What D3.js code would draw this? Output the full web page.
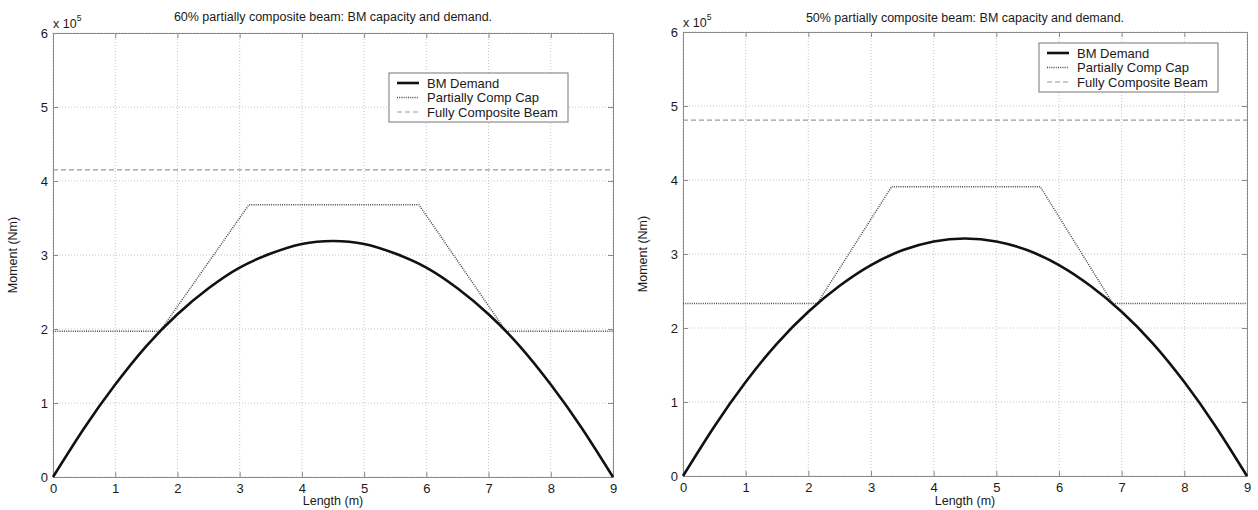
<!DOCTYPE html>
<html>
<head>
<meta charset="utf-8">
<script src="https://cdn.jsdelivr.net/npm/d3@7"></script>
<style>
  body { margin: 0; background: #fff; }
  svg text { font-family: "Liberation Sans", Arial, sans-serif; fill: #1a1a1a; }
</style>
</head>
<body>
<svg id="chart" width="1258" height="510"></svg>
<script>
// values, moments in Nm
const lengthTicks = [0, 1, 2, 3, 4, 5, 6, 7, 8, 9];
const momentTicks = [0, 1e5, 2e5, 3e5, 4e5, 5e5, 6e5];

const demandX = [0, 0.5, 1, 1.5, 2, 2.5, 3, 3.5, 4, 4.5, 5, 5.5, 6, 6.5, 7, 7.5, 8, 8.5, 9];
const demandLeft = [0, 66000, 125000, 177000, 220000, 255000, 283000, 302000, 315000, 319000,
  315000, 302000, 283000, 255000, 220000, 177000, 125000, 66000, 0];
const demandRight = [0, 67000, 127000, 179000, 222000, 257000, 285000, 305000, 317000, 321000,
  317000, 305000, 285000, 257000, 222000, 179000, 127000, 67000, 0];

const capLeftX = [0, 1.72, 3.15, 5.88, 7.28, 9];
const capLeftM = [197000, 197000, 368000, 368000, 197000, 197000];
const capRightX = [0, 2.14, 3.33, 5.70, 6.86, 9];
const capRightM = [233000, 233000, 391000, 391000, 233000, 233000];

const fullLeft = 415000;
const fullRight = 481000;

const legendLabels = ["BM Demand", "Partially Comp Cap", "Fully Composite Beam"];

const styles = [
  { stroke: "#111", width: 2.6, dash: null },
  { stroke: "#4a4a4a", width: 1.5, dash: "1,1.2" },
  { stroke: "#999", width: 1.2, dash: "5,3" }
];

const svg = d3.select("#chart");

function drawPanel(p) {
  const x = d3.scaleLinear().domain([0, 9]).range([p.left, p.right]);
  const y = d3.scaleLinear().domain([0, 6e5]).range([p.bottom, p.top]);
  const g = svg.append("g");

  // grid
  g.append("g").selectAll("line").data(lengthTicks).join("line")
    .attr("x1", d => x(d)).attr("x2", d => x(d))
    .attr("y1", p.top).attr("y2", p.bottom)
    .attr("stroke", "#c4c4c4").attr("stroke-dasharray", "1,2");
  g.append("g").selectAll("line").data(momentTicks).join("line")
    .attr("y1", d => y(d)).attr("y2", d => y(d))
    .attr("x1", p.left).attr("x2", p.right)
    .attr("stroke", "#c4c4c4").attr("stroke-dasharray", "1,2");

  // axes, ticks pointing in on all four sides
  const fmt = d => d / 1e5;
  const axes = [
    d3.axisBottom(x).tickValues(lengthTicks).tickSize(-5).tickPadding(7),
    d3.axisTop(x).tickValues(lengthTicks).tickSize(-5).tickFormat(""),
    d3.axisLeft(y).tickValues(momentTicks).tickSize(-5).tickPadding(5).tickFormat(fmt),
    d3.axisRight(y).tickValues(momentTicks).tickSize(-5).tickFormat("")
  ];
  const pos = [
    `translate(0,${p.bottom})`, `translate(0,${p.top})`,
    `translate(${p.left},0)`, `translate(${p.right},0)`
  ];
  axes.forEach((a, i) => {
    const ag = g.append("g").attr("transform", pos[i]).call(a);
    ag.selectAll("path, line").attr("stroke", "#8a8a8a");
    ag.selectAll("text").attr("font-size", 13).attr("fill", "#1a1a1a")
      .style("font-family", '"Liberation Sans", Arial, sans-serif');
  });

  // series
  const demand = demandX.map((d, i) => [d, p.demand[i]]);
  const cap = p.capX.map((d, i) => [d, p.capM[i]]);
  const line = d3.line().x(d => x(d[0])).y(d => y(d[1]));

  g.append("line")
    .attr("x1", x(0)).attr("x2", x(9))
    .attr("y1", y(p.full)).attr("y2", y(p.full))
    .attr("stroke", styles[2].stroke).attr("stroke-width", styles[2].width)
    .attr("stroke-dasharray", styles[2].dash);
  g.append("path").datum(cap).attr("d", line)
    .attr("fill", "none").attr("stroke", styles[1].stroke)
    .attr("stroke-width", styles[1].width).attr("stroke-dasharray", styles[1].dash);
  g.append("path").datum(demand).attr("d", line.curve(d3.curveNatural))
    .attr("fill", "none").attr("stroke", styles[0].stroke)
    .attr("stroke-width", styles[0].width);

  // labels
  g.append("text").attr("x", (p.left + p.right) / 2).attr("y", p.titleY)
    .attr("text-anchor", "middle").attr("font-size", 12.5).text(p.title);
  g.append("text").attr("x", p.xLabelX).attr("y", p.xLabelY)
    .attr("text-anchor", "middle").attr("font-size", 12.5).text("Length (m)");
  g.append("text")
    .attr("transform", `translate(${p.left - 36},${(p.top + p.bottom) / 2}) rotate(-90)`)
    .attr("text-anchor", "middle").attr("font-size", 12.5).text("Moment (Nm)");
  const mult = g.append("text").attr("x", p.left).attr("y", p.top - 5).attr("font-size", 12.5);
  mult.append("tspan").text("x 10");
  mult.append("tspan").attr("dy", -7).attr("font-size", 8.5).text("5");

  // legend
  const lg = g.append("g").attr("transform", `translate(${p.legX},${p.legY})`);
  lg.append("rect").attr("width", 179).attr("height", 49)
    .attr("fill", "#fff").attr("stroke", "#777").attr("stroke-width", 1);
  legendLabels.forEach((lab, i) => {
    const yy = 10 + i * 14.5;
    lg.append("line").attr("x1", 8).attr("x2", 30).attr("y1", yy).attr("y2", yy)
      .attr("stroke", styles[i].stroke).attr("stroke-width", styles[i].width)
      .attr("stroke-dasharray", styles[i].dash);
    lg.append("text").attr("x", 38).attr("y", yy + 4.5).attr("font-size", 13).text(lab);
  });
}

drawPanel({
  left: 53, right: 613, top: 33, bottom: 477,
  title: "60% partially composite beam: BM capacity and demand.", titleY: 21,
  xLabelX: 333, xLabelY: 505,
  demand: demandLeft, capX: capLeftX, capM: capLeftM, full: fullLeft,
  legX: 389, legY: 73
});
drawPanel({
  left: 683, right: 1247, top: 32, bottom: 476,
  title: "50% partially composite beam: BM capacity and demand.", titleY: 22,
  xLabelX: 965, xLabelY: 505,
  demand: demandRight, capX: capRightX, capM: capRightM, full: fullRight,
  legX: 1039, legY: 43
});
</script>
</body>
</html>
